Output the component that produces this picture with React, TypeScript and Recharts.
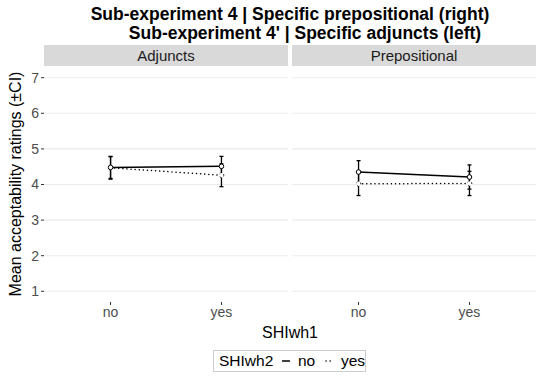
import React from "react";
import { LineChart, Line, XAxis, YAxis, CartesianGrid, ErrorBar } from "recharts";

const categories = ["no", "yes"];
const yTicks = [1, 2, 3, 4, 5, 6, 7];

// Adjuncts panel
const adjNoMean = [4.48, 4.51];
const adjNoLow = [4.17, 4.23];
const adjNoHigh = [4.79, 4.79];
const adjYesMean = [4.47, 4.26];
const adjYesLow = [4.15, 3.94];
const adjYesHigh = [4.78, 4.58];

// Prepositional panel
const prepNoMean = [4.35, 4.21];
const prepNoLow = [4.03, 3.87];
const prepNoHigh = [4.67, 4.55];
const prepYesMean = [4.02, 4.03];
const prepYesLow = [3.69, 3.69];
const prepYesHigh = [4.35, 4.37];

const FONT = "'Liberation Sans', Arial, sans-serif";
const TICK = { fontSize: 14, fill: "#4d4d4d", fontFamily: FONT };

function build(noMean: number[], noLow: number[], noHigh: number[], yesMean: number[], yesLow: number[], yesHigh: number[]) {
  return categories.map((c, i) => ({
    x: i + 1,
    cat: c,
    no: noMean[i],
    noErr: [noMean[i] - noLow[i], noHigh[i] - noMean[i]],
    yes: yesMean[i],
    yesErr: [yesMean[i] - yesLow[i], yesHigh[i] - yesMean[i]],
  }));
}

const adjData = build(adjNoMean, adjNoLow, adjNoHigh, adjYesMean, adjYesLow, adjYesHigh);
const prepData = build(prepNoMean, prepNoLow, prepNoHigh, prepYesMean, prepYesLow, prepYesHigh);

const dot = { r: 2.3, fill: "#fff", stroke: "#000", strokeWidth: 1 };

function Panel({ data, showY, width }: { data: any[]; showY: boolean; width: number }) {
  return (
    <LineChart width={width} height={256} data={data} margin={{ top: 0, right: 0, left: 0, bottom: 0 }}>
      <CartesianGrid vertical={false} stroke="#ebebeb" strokeWidth={1.1} horizontalValues={yTicks} />
      <XAxis
        dataKey="x"
        type="number"
        domain={[0.4, 2.6]}
        ticks={[1, 2]}
        tickFormatter={(v: number) => categories[v - 1]}
        axisLine={false}
        tickLine={{ stroke: "#333" }}
        tickSize={3}
        tick={TICK}
        height={21}
        interval={0}
      />
      <YAxis
        type="number"
        domain={[0.7, 7.3]}
        ticks={yTicks}
        hide={!showY}
        width={44}
        axisLine={false}
        tickLine={{ stroke: "#333" }}
        tickSize={3}
        tick={TICK}
        interval={0}
      />
      <Line dataKey="yes" stroke="#000" strokeWidth={1.5} strokeDasharray="0.1 4" strokeLinecap="round" dot={dot} isAnimationActive={false}>
        <ErrorBar dataKey="yesErr" width={2} stroke="#000" strokeWidth={1.3} direction="y" />
      </Line>
      <Line dataKey="no" stroke="#000" strokeWidth={1.5} dot={dot} isAnimationActive={false}>
        <ErrorBar dataKey="noErr" width={2} stroke="#000" strokeWidth={1.3} direction="y" />
      </Line>
    </LineChart>
  );
}

const stripStyle: React.CSSProperties = {
  position: "absolute",
  top: 45,
  height: 21,
  background: "#d9d9d9",
  color: "#1a1a1a",
  fontSize: 15,
  lineHeight: "21px",
  textAlign: "center",
  fontFamily: FONT,
};

export default function App() {
  return (
    <div style={{ position: "absolute", left: 0, top: 0, width: 550, height: 380, background: "#fff", fontFamily: FONT }}>
      <div style={{ position: "absolute", left: 0, width: 580, top: 4, textAlign: "center", fontWeight: "bold", fontSize: 17.5, lineHeight: "20px" }}>
        Sub-experiment 4 | Specific prepositional (right)
      </div>
      <div style={{ position: "absolute", left: 0, width: 610, top: 23, textAlign: "center", fontWeight: "bold", fontSize: 17.5, lineHeight: "20px" }}>
        Sub-experiment 4' | Specific adjuncts (left)
      </div>
      <div style={{ ...stripStyle, left: 44, width: 244 }}>Adjuncts</div>
      <div style={{ ...stripStyle, left: 292, width: 244 }}>Prepositional</div>
      <div style={{ position: "absolute", left: 0, top: 67 }}>
        <Panel data={adjData} showY={true} width={288} />
      </div>
      <div style={{ position: "absolute", left: 292, top: 67 }}>
        <Panel data={prepData} showY={false} width={244} />
      </div>
      <div
        style={{
          position: "absolute",
          left: 16,
          top: 184,
          transform: "translate(-50%, -50%) rotate(-90deg)",
          whiteSpace: "nowrap",
          fontSize: 16,
        }}
      >
        Mean acceptability ratings (±CI)
      </div>
      <div style={{ position: "absolute", left: 44, width: 492, top: 324, textAlign: "center", fontSize: 16 }}>SHIwh1</div>
      <div
        style={{
          position: "absolute",
          left: 213,
          top: 350,
          width: 153,
          height: 22,
          border: "1px solid #cccccc",
          display: "flex",
          alignItems: "center",
          fontSize: 15.5,
          boxSizing: "border-box",
          paddingLeft: 5,
          whiteSpace: "nowrap",
        }}
      >
        <span>SHIwh2</span>
        <svg width={12} height={10} style={{ marginLeft: 7 }}>
          <line x1={2} y1={5} x2={10} y2={5} stroke="#000" strokeWidth={1.5} />
        </svg>
        <span style={{ marginLeft: 6 }}>no</span>
        <svg width={12} height={10} style={{ marginLeft: 8 }}>
          <line x1={3} y1={5} x2={9} y2={5} stroke="#000" strokeWidth={1.5} strokeDasharray="0.1 4" strokeLinecap="round" />
        </svg>
        <span style={{ marginLeft: 6 }}>yes</span>
      </div>
    </div>
  );
}
